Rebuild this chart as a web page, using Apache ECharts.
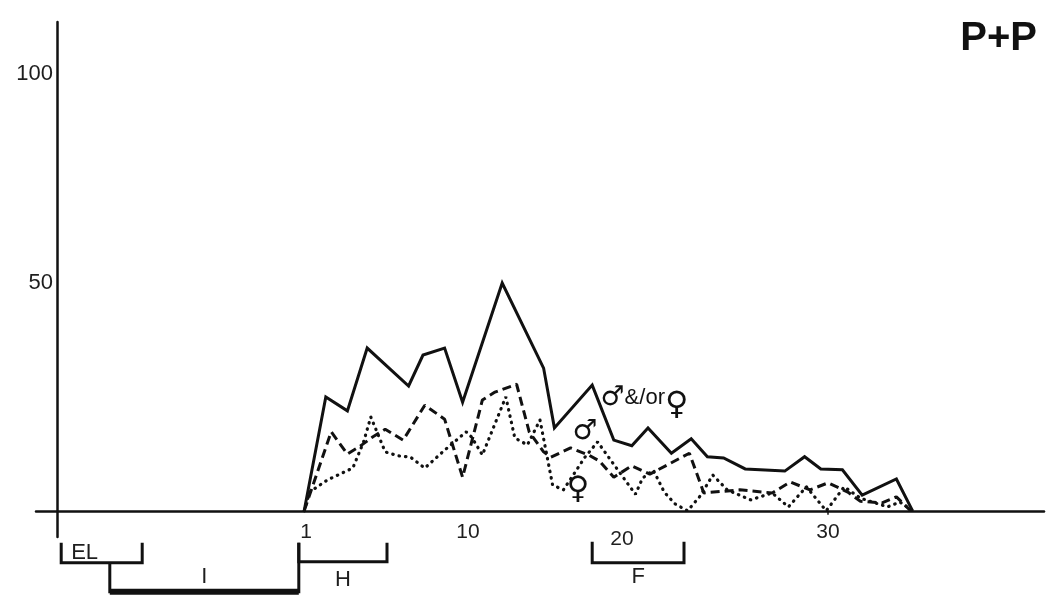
<!DOCTYPE html>
<html>
<head>
<meta charset="utf-8">
<title>P+P</title>
<script src="https://cdn.jsdelivr.net/npm/echarts@6/dist/echarts.min.js"></script>
<style>
  html, body { margin: 0; padding: 0; background: #ffffff; }
  #chart { width: 1050px; height: 605px; }
</style>
</head>
<body>
<div id="chart"></div>
<script>
// Day after hatching (x) and percentage (y) for each curve
const bothDay = [0.9, 2.1, 3.3, 4.4, 6.7, 7.5, 8.7, 9.7, 11.9, 14.2, 14.8, 16.9, 18.1, 19.1, 20.0, 21.3, 22.4, 23.3, 24.2, 25.4, 27.6, 28.7, 29.6, 30.8, 31.9, 33.8, 34.7];
const bothPct = [0, 26.1, 22.9, 37.3, 28.6, 35.7, 37.3, 24.9, 52.2, 32.7, 19.0, 28.8, 16.2, 14.9, 19.0, 13.2, 16.5, 12.4, 12.1, 9.6, 9.1, 12.4, 9.6, 9.4, 3.6, 7.3, 0];

const maleDay = [0.9, 2.4, 3.3, 4.0, 4.7, 5.4, 6.4, 7.6, 8.7, 9.7, 10.8, 11.5, 12.7, 13.4, 14.2, 14.6, 15.7, 16.7, 17.3, 18.1, 19.1, 20.1, 22.3, 23.1, 25.1, 26.9, 27.9, 29.0, 30.0, 31.1, 31.8, 33.0, 33.8, 34.6];
const malePct = [0, 18.1, 13.0, 14.8, 16.9, 18.7, 16.2, 24.2, 21.0, 7.7, 25.4, 27.2, 29.0, 18.1, 13.5, 12.3, 14.4, 12.8, 11.4, 7.7, 10.3, 8.4, 13.2, 4.1, 4.8, 4.1, 6.6, 4.8, 6.4, 4.3, 2.2, 1.8, 3.2, 0];

const femaleDay = [0.9, 1.2, 2.2, 3.6, 4.2, 4.6, 5.4, 6.1, 6.8, 7.6, 8.7, 9.9, 10.2, 10.8, 12.1, 12.6, 13.3, 14.0, 14.7, 15.3, 16.5, 17.2, 18.0, 19.3, 19.7, 20.3, 20.9, 21.5, 22.2, 22.9, 23.6, 24.4, 25.7, 26.9, 27.8, 28.8, 29.9, 30.9, 31.8, 33.3, 34.0, 34.7];
const femalePct = [0, 4.3, 7.1, 9.8, 15.8, 21.5, 13.5, 12.6, 12.3, 9.8, 13.9, 18.1, 16.9, 12.8, 26.1, 16.7, 15.1, 20.8, 5.9, 4.8, 12.3, 15.8, 11.2, 3.8, 7.5, 9.3, 4.3, 1.6, 0, 3.4, 8.2, 4.8, 2.5, 4.1, 0.9, 5.5, 0, 5.5, 2.9, 0.9, 2.0, 0];

// Axis tick labels
const xTickValues = [1, 10, 20, 30];
const yTickValues = [50, 100];

// Breeding-cycle periods (days relative to hatching)
const periodNames = ['EL', 'I', 'H', 'F'];
const periodStart = [-12.6, -9.9, 0.6, 16.9];
const periodEnd = [-8.1, 0.6, 5.5, 22.0];

// Curve captions
const captionText = ['\u2642&/or\u2640', '\u2642', '\u2640'];
const captionDay = [19.8, 16.5, 16.1];
const captionPct = [25.9, 18.1, 4.8];

const INK = '#111111';
const TEXT = '#1e1e1e';
const SANS = '"Liberation Sans", Arial, Helvetica, sans-serif';
const SYM = '"DejaVu Sans", sans-serif';

// bracket geometry below the baseline, in pixels
const bracketStyle = {
  EL: { leftTop: 32, rightTop: 32, bottom: 52, width: 3, label: 'insideLeft', labelDy: 42 },
  I:  { leftTop: 52, rightTop: 32, bottom: 81, width: 3, bottomWidth: 6, label: 'center', labelDy: 66 },
  H:  { leftTop: 32, rightTop: 32, bottom: 51, width: 3, label: 'center', labelDy: 69 },
  F:  { leftTop: 31, rightTop: 31, bottom: 52, width: 3, label: 'center', labelDy: 66 }
};

function pairs(xs, ys) { return xs.map((x, i) => [x, ys[i]]); }

function renderBracket(params, api) {
  const name = periodNames[params.dataIndex];
  const st = bracketStyle[name];
  const base = api.coord([0, 0])[1];
  const x0 = api.coord([api.value(0), 0])[0];
  const x1 = api.coord([api.value(1), 0])[0];
  const kids = [{
    type: 'polyline',
    shape: { points: [[x0, base + st.leftTop], [x0, base + st.bottom], [x1, base + st.bottom], [x1, base + st.rightTop]] },
    style: { stroke: INK, lineWidth: st.width, fill: null, lineJoin: 'miter' }
  }];
  if (st.bottomWidth) {
    kids.push({
      type: 'line',
      shape: { x1: x0, y1: base + st.bottom, x2: x1, y2: base + st.bottom },
      style: { stroke: INK, lineWidth: st.bottomWidth }
    });
  }
  const left = st.label === 'insideLeft';
  kids.push({
    type: 'text',
    style: {
      x: left ? x0 + 10 : (x0 + x1) / 2,
      y: base + st.labelDy,
      text: name,
      fill: TEXT,
      fontSize: 22,
      fontFamily: SANS,
      align: left ? 'left' : 'center',
      verticalAlign: 'middle'
    }
  });
  return { type: 'group', children: kids };
}

const chart = echarts.init(document.getElementById('chart'), null, { renderer: 'canvas' });

chart.setOption({
  animation: false,
  backgroundColor: '#ffffff',
  title: {
    text: 'P+P',
    right: 8,
    top: 14,
    textStyle: { fontSize: 40, fontWeight: 'bold', fontFamily: SANS, color: INK }
  },
  grid: { left: 36, right: 6, top: 22, bottom: 68 },
  xAxis: {
    type: 'value',
    min: -14,
    max: 42,
    splitLine: { show: false },
    axisLine: { onZero: true, lineStyle: { color: INK, width: 2.5 } },
    axisTick: { show: true, customValues: [30], length: 4, lineStyle: { color: INK, width: 1.5 } },
    axisLabel: {
      customValues: xTickValues,
      margin: -15,
      color: TEXT,
      fontSize: 21,
      fontFamily: SANS,
      formatter: v => (v === 20 ? '{shift|20}' : String(v)),
      rich: { shift: { fontSize: 21, fontFamily: SANS, color: TEXT, padding: [7, 52, 0, 0] } }
    }
  },
  yAxis: {
    type: 'value',
    min: -6,
    max: 112,
    offset: -21,
    splitLine: { show: false },
    axisLine: { show: true, onZero: false, lineStyle: { color: INK, width: 2.5 } },
    axisTick: { show: false },
    axisLabel: {
      customValues: yTickValues,
      margin: 4,
      color: TEXT,
      fontSize: 22,
      fontFamily: SANS,
      formatter: v => (v === 50 ? '{up|50}' : String(v)),
      rich: { up: { fontSize: 22, fontFamily: SANS, color: TEXT, padding: [0, 0, 20, 0] } }
    }
  },
  series: [
    {
      name: 'both',
      type: 'line',
      data: pairs(bothDay, bothPct),
      showSymbol: false,
      lineStyle: { color: INK, width: 3, join: 'miter' },
      z: 4,
      markPoint: {
        symbol: 'circle',
        symbolSize: 0,
        label: { show: true, position: 'inside', formatter: p => p.name },
        data: captionText.map((t, i) => ({
          name: t,
          coord: [captionDay[i], captionPct[i]],
          label: i === 0
            ? { formatter: '{s|\u2642}{t|&/or}{f|\u2640}', rich: {
                s: { fontFamily: SYM, fontSize: 27, color: INK },
                t: { fontFamily: SANS, fontSize: 22, color: INK },
                f: { fontFamily: SYM, fontSize: 32, color: INK, padding: [16, 0, 0, 0] } } }
            : { fontFamily: SYM, fontSize: i === 1 ? 28 : 31, color: INK }
        }))
      }
    },
    {
      name: 'male',
      type: 'line',
      data: pairs(maleDay, malePct),
      showSymbol: false,
      lineStyle: { color: INK, width: 3, type: [9, 5] },
      z: 3
    },
    {
      name: 'female',
      type: 'line',
      data: pairs(femaleDay, femalePct),
      showSymbol: false,
      lineStyle: { color: INK, width: 3.2, type: [0.5, 6], cap: 'round' },
      z: 2
    },
    {
      name: 'periods',
      type: 'custom',
      clip: false,
      renderItem: renderBracket,
      encode: { x: [0, 1], y: 2 },
      data: periodStart.map((s, i) => [s, periodEnd[i], 0]),
      z: 5
    }
  ]
});
</script>
</body>
</html>
